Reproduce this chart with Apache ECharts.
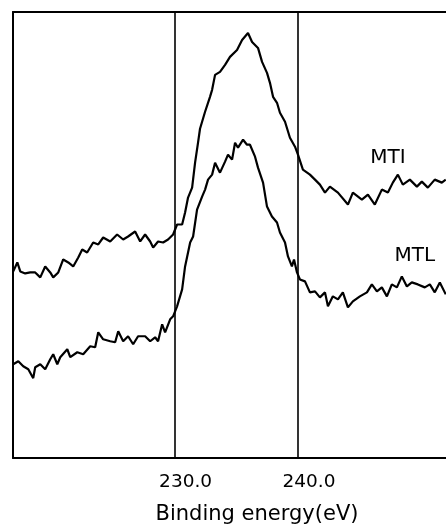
<!DOCTYPE html>
<html>
<head>
<meta charset="utf-8">
<script src="https://cdn.jsdelivr.net/npm/echarts@6/dist/echarts.min.js"></script>
<style>html,body{margin:0;padding:0;background:#fff;}#c{width:446px;height:528px;}</style>
</head>
<body>
<div id="c"></div>
<script>
// Binding energy (eV) and intensity (arbitrary units)
const mtiEnergy = [216.92,217.25,217.49,217.89,218.30,218.70,219.11,219.51,219.92,220.16,220.57,220.97,221.38,221.78,222.19,222.51,222.91,223.40,223.81,224.21,224.78,225.34,225.83,226.23,226.80,227.21,227.61,228.02,228.26,228.66,229.07,229.47,229.88,230.20,230.61,230.85,231.09,231.42,231.66,231.90,232.06,232.47,232.87,233.04,233.28,233.68,234.09,234.49,235.06,235.47,235.95,236.28,236.76,237.09,237.49,237.73,237.98,238.30,238.54,238.95,239.35,239.76,240.00,240.40,240.97,241.38,241.78,242.19,242.59,243.24,244.05,244.45,245.18,245.67,246.23,246.80,247.29,247.69,248.10,248.50,249.07,249.64,250.04,250.53,251.09,251.66,251.98];
const mtiCounts = [187,196,187,185,186,186,181,192,186,181,186,199,196,192,201,209,206,216,214,221,217,224,219,222,227,217,224,217,211,217,216,219,224,234,234,246,261,271,296,316,330,347,362,369,384,387,394,402,409,419,426,417,411,397,386,376,362,356,346,337,321,312,304,289,284,279,274,266,272,266,254,266,259,264,254,269,266,276,284,274,279,272,277,271,279,276,279];

const mtlEnergy = [216.92,217.33,217.73,218.14,218.54,218.70,219.11,219.51,219.92,220.16,220.49,220.73,221.30,221.54,222.11,222.59,223.16,223.56,223.81,224.21,224.78,225.18,225.43,225.83,226.23,226.64,227.04,227.61,228.02,228.42,228.66,228.99,229.23,229.64,229.88,230.20,230.61,230.85,231.26,231.50,231.82,232.23,232.47,232.71,233.04,233.28,233.68,234.09,234.33,234.66,234.90,235.14,235.55,235.87,236.11,236.52,236.76,237.17,237.49,237.89,238.30,238.54,238.95,239.19,239.51,239.68,239.92,240.16,240.57,240.97,241.38,241.78,242.19,242.43,242.83,243.24,243.64,244.05,244.45,245.02,245.59,245.99,246.40,246.80,247.21,247.61,248.02,248.42,248.83,249.23,249.72,250.28,250.69,251.09,251.50,251.98];
const mtlCounts = [94,97,92,89,80,91,94,89,99,104,94,101,109,101,106,104,112,111,126,119,117,116,127,117,122,114,122,122,117,121,117,134,126,139,142,152,169,192,216,222,249,262,269,279,284,296,286,297,304,299,316,311,319,314,314,302,291,276,252,242,236,226,216,202,192,199,186,179,177,166,167,161,166,152,162,159,166,151,157,162,166,174,167,171,162,174,171,182,172,176,174,171,174,166,176,164];

const seriesNames = ['MTI', 'MTL'];
const referenceLines = [230, 240];
const tickLabels = ['230.0', '240.0'];
const nameLabelAt = [[247.29, 301], [249.47, 203]];

const pair = (xs, ys) => xs.map((x, i) => [x, ys[i]]);
const chart = echarts.init(document.getElementById('c'), null, {renderer: 'canvas'});
const axisLine = {show: true, lineStyle: {color: '#000', width: 2}};
const FONT = 'DejaVu Sans';

chart.setOption({
  backgroundColor: '#fff',
  animation: false,
  grid: {left: 13, right: 0, top: 12, bottom: 70, containLabel: false, outerBoundsMode: 'none'},
  xAxis: [{
    type: 'value', min: 216.9, max: 252.0, position: 'bottom',
    axisLine: axisLine, axisTick: {show: false}, splitLine: {show: false},
    axisLabel: {
      customValues: referenceLines,
      formatter: v => { const i = referenceLines.indexOf(Math.round(v)); return i >= 0 ? tickLabels[i] : ''; },
      color: '#000', fontFamily: FONT, fontSize: 18.5,
      margin: 15, padding: [0, 0, 0, 22]
    },
    name: 'Binding energy(eV)', nameLocation: 'middle', nameGap: 46,
    nameTextStyle: {color: '#000', fontFamily: FONT, fontSize: 21, padding: [0, 0, 0, 55]}
  }, {
    type: 'value', min: 216.9, max: 252.0, position: 'top',
    axisLine: axisLine, axisTick: {show: false}, axisLabel: {show: false}, splitLine: {show: false}
  }],
  yAxis: {
    type: 'value', min: 0, max: 447,
    axisLine: axisLine, axisTick: {show: false}, axisLabel: {show: false}, splitLine: {show: false}
  },
  series: [{
    name: seriesNames[0], type: 'line', data: pair(mtiEnergy, mtiCounts),
    symbol: 'none', lineStyle: {color: '#000', width: 2.2}, z: 3,
    markLine: {
      silent: true, symbol: 'none', label: {show: false},
      lineStyle: {color: '#000', width: 1.6, type: 'solid'},
      data: referenceLines.map(v => ({xAxis: v}))
    },
    markPoint: {
      symbol: 'circle', symbolSize: 0,
      label: {show: true, formatter: seriesNames[0], color: '#000', fontFamily: FONT, fontSize: 20, position: 'inside'},
      data: [{coord: nameLabelAt[0]}]
    }
  }, {
    name: seriesNames[1], type: 'line', data: pair(mtlEnergy, mtlCounts),
    symbol: 'none', lineStyle: {color: '#000', width: 2.2}, z: 3,
    markPoint: {
      symbol: 'circle', symbolSize: 0,
      label: {show: true, formatter: seriesNames[1], color: '#000', fontFamily: FONT, fontSize: 20, position: 'inside'},
      data: [{coord: nameLabelAt[1]}]
    }
  }]
});
</script>
</body>
</html>
